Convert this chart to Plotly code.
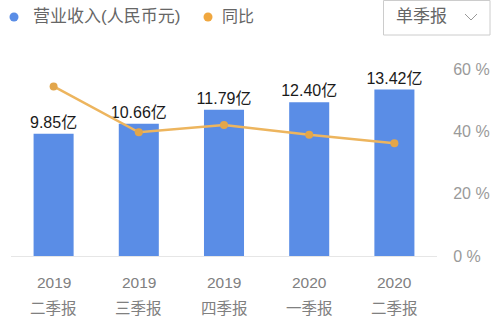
import plotly.graph_objects as go

categories = ["2019二季报", "2019三季报", "2019四季报", "2020一季报", "2020二季报"]
years = ["2019", "2019", "2019", "2020", "2020"]
quarters = ["二季报", "三季报", "四季报", "一季报", "二季报"]
revenue = [9.85, 10.66, 11.79, 12.40, 13.42]
yoy = [54.4, 39.7, 42.0, 38.9, 36.2]
pct_ticks = [0, 20, 40, 60]

W, H = 500, 323
FONT = "Liberation Sans, Arial, Noto Sans CJK SC"
BLUE = "#5A8DE6"
ORANGE = "#EDB55E"
ORANGE_DK = "#E2A64B"

def px(x):
    return x / W

def py(y):
    return 1 - y / H

fig = go.Figure()
fig.add_trace(go.Bar(
    x=categories, y=revenue, marker=dict(color=BLUE, line=dict(width=0)),
    text=[f"{v:.2f}亿" for v in revenue], textposition="outside",
    constraintext="none",
    textfont=dict(family=FONT, size=16, color="#1a1a1a"),
    cliponaxis=False, showlegend=False, hoverinfo="skip",
))
fig.add_trace(go.Scatter(
    x=categories, y=yoy, yaxis="y2", mode="lines+markers",
    line=dict(color=ORANGE, width=2.5),
    marker=dict(color=ORANGE_DK, size=8),
    showlegend=False, cliponaxis=False, hoverinfo="skip",
))

annotations = []
for c, yr, q in zip(categories, years, quarters):
    annotations.append(dict(x=c, xref="x", y=py(282), yref="paper", text=yr,
                            showarrow=False, yanchor="middle",
                            font=dict(family=FONT, size=15.5, color="#808080")))
    annotations.append(dict(x=c, xref="x", y=py(308), yref="paper", text=q,
                            showarrow=False, yanchor="middle",
                            font=dict(family=FONT, size=15.5, color="#808080")))

# legend
annotations.append(dict(x=px(31), y=py(17), xref="paper", yref="paper", text="营业收入(人民币元)",
                        showarrow=False, xanchor="left", yanchor="middle",
                        font=dict(family=FONT, size=17, color="#666666")))
annotations.append(dict(x=px(220), y=py(17), xref="paper", yref="paper", text="同比",
                        showarrow=False, xanchor="left", yanchor="middle",
                        font=dict(family=FONT, size=16, color="#666666")))
# dropdown text
annotations.append(dict(x=px(394), y=py(17), xref="paper", yref="paper", text="单季报",
                        showarrow=False, xanchor="left", yanchor="middle",
                        font=dict(family=FONT, size=17, color="#666666")))

shapes = [
    dict(type="circle", xref="paper", yref="paper", x0=px(9.5), x1=px(18.5), y0=py(21.5), y1=py(12.5),
         fillcolor=BLUE, line=dict(width=0)),
    dict(type="circle", xref="paper", yref="paper", x0=px(203.5), x1=px(212.5), y0=py(21.5), y1=py(12.5),
         fillcolor="#F0A73F", line=dict(width=0)),
    dict(type="rect", xref="paper", yref="paper", x0=px(383.5), x1=px(490), y0=py(35), y1=py(0.5),
         line=dict(color="#CCCCCC", width=1), fillcolor="rgba(0,0,0,0)"),
    dict(type="path", xref="paper", yref="paper",
         path=f"M {px(465)} {py(14)} L {px(471)} {py(20)} L {px(477)} {py(14)}",
         line=dict(color="#999999", width=1)),
]

fig.update_layout(
    width=W, height=H, margin=dict(l=0, r=0, t=0, b=0, autoexpand=False),
    paper_bgcolor="white", plot_bgcolor="white",
    bargap=0.53,
    xaxis=dict(domain=[px(11), px(437)], showticklabels=False, showgrid=False,
               showline=True, linecolor="#E6E6E6", linewidth=1, zeroline=False,
               ticks="", fixedrange=True, automargin=False),
    yaxis=dict(domain=[py(256), py(69)], range=[0, 15.08], showticklabels=False,
               showgrid=False, zeroline=False, showline=False, fixedrange=True,
               automargin=False),
    yaxis2=dict(overlaying="y", side="right", range=[0, 60], tickvals=pct_ticks,
                ticktext=[f"{v} %" for v in pct_ticks], showgrid=False, zeroline=False,
                showline=False, ticks="outside", ticklen=12, tickcolor="rgba(0,0,0,0)",
                tickfont=dict(family=FONT, size=16, color="#9A9A9A"), fixedrange=True,
                automargin=False),
    annotations=annotations, shapes=shapes,
)

fig.write_html("out.html")
